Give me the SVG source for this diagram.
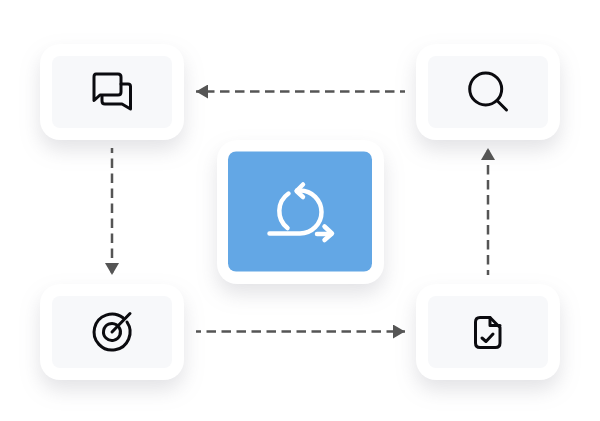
<svg xmlns="http://www.w3.org/2000/svg" width="600" height="421" viewBox="0 0 600 421">
<defs>
<style>
.card{fill:#fff;filter:url(#sh)}
.inner{fill:#f7f8fa}
.ic{fill:none;stroke:#0b0b0f;stroke-width:3;stroke-linecap:round;stroke-linejoin:round}
.wh{fill:none;stroke:#fff;stroke-width:4.500;stroke-linecap:round;stroke-linejoin:round}
.conn{fill:none;stroke:#555;stroke-width:2.500;stroke-dasharray:9.500 5.500;stroke-dashoffset:4.500}
</style>
<filter id="sh" x="-40%" y="-40%" width="180%" height="200%" color-interpolation-filters="sRGB">
<feDropShadow dx="0" dy="10" stdDeviation="10" flood-color="#5a5a68" flood-opacity="0.17"/>
</filter>
<marker id="ah" markerUnits="userSpaceOnUse" markerWidth="12" markerHeight="14" refX="12" refY="7" orient="auto">
<path d="M0 0L12 7L0 14Z" fill="#555"/>
</marker>
</defs>
<rect width="600" height="421" fill="#fff"/>
<g id="node-chat">
<rect class="card" x="40" y="44" width="144" height="96" rx="20"/>
<rect class="inner" x="52" y="56" width="120" height="72" rx="8"/>
<path class="ic" d="M96 74H118Q121 74 121 77V92Q121 95 118 95H100L94 100.500V77Q94 74 96 74Z"/>
<path class="ic" d="M121 84H128Q130.500 84 130.500 86.500V109L122 104H105Q102 104 102 101V96"/>
</g>
<g id="node-search">
<rect class="card" x="416" y="44" width="144" height="96" rx="20"/>
<rect class="inner" x="428" y="56" width="120" height="72" rx="8"/>
<circle class="ic" cx="485.700" cy="89" r="16"/>
<path class="ic" d="M497 100.500L506.500 110"/>
</g>
<g id="node-center">
<rect class="card" x="217" y="140" width="167" height="144" rx="20"/>
<rect x="228" y="151.500" width="144" height="120" rx="8" fill="#63a7e5"/>
<path class="wh" d="M269.500 233.500H300A21.500 21.500 0 1 0 300 190.500H297"/>
<path class="wh" d="M303 184.500L296.500 191L303 197"/>
<path class="wh" d="M288.500 193.500A21.500 21.500 0 0 0 287.500 228"/>
<path class="wh" d="M317 234H331"/>
<path class="wh" d="M324.500 226.500L332 233.500L324.500 240"/>
</g>
<g id="node-target">
<rect class="card" x="40" y="284" width="144" height="96" rx="20"/>
<rect class="inner" x="52" y="296" width="120" height="72" rx="8"/>
<path class="ic" d="M123 317.750A18 18 0 1 0 127 322"/>
<path class="ic" d="M116.500 324.800A8.500 8.500 0 1 0 119.200 327.500"/>
<path class="ic" d="M112 332L130 313.500"/>
</g>
<g id="node-doc">
<rect class="card" x="416" y="284" width="144" height="96" rx="20"/>
<rect class="inner" x="428" y="296" width="120" height="72" rx="8"/>
<path class="ic" d="M490 317.500H480Q475.500 317.500 475.500 322V343Q475.500 347.500 480 347.500H495.500Q500 347.500 500 343V327.500Z"/>
<path class="ic" d="M490 317.500V325.500H500"/>
<path class="ic" d="M482 338L486 341.500L493 334"/>
</g>
<g id="connectors">
<line class="conn" x1="405" y1="91.500" x2="196" y2="91.500" marker-end="url(#ah)"/>
<line class="conn" x1="112" y1="148" x2="112" y2="275" marker-end="url(#ah)"/>
<line class="conn" x1="196" y1="331.500" x2="405" y2="331.500" marker-end="url(#ah)"/>
<line class="conn" x1="488" y1="275" x2="488" y2="148" marker-end="url(#ah)"/>
</g>
</svg>
